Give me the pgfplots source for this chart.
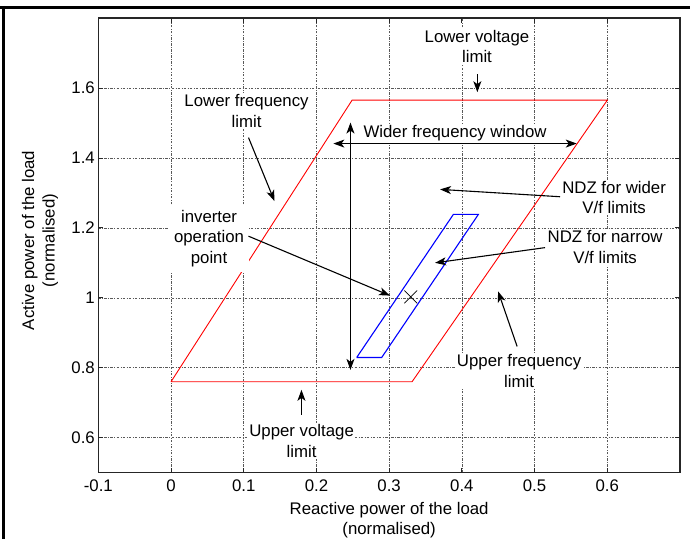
\documentclass[border=0pt]{standalone}
\usepackage{fontspec}
\setmainfont{Liberation Sans}
\usepackage{pgfplots}
\pgfplotsset{compat=1.18}
\usetikzlibrary{arrows.meta}

\tikzset{
  lbl/.style={fill=white, inner sep=1.5pt, align=center},
  arr/.style={line width=1.1pt, black, -{Stealth[length=11pt,width=8pt,inset=3pt]}},
  darr/.style={line width=1.1pt, black, {Stealth[length=11pt,width=8pt,inset=3pt]}-{Stealth[length=11pt,width=8pt,inset=3pt]}},
}

\begin{document}
\begin{tikzpicture}[font=\fontsize{16.8}{20.5}\selectfont]
\useasboundingbox (-98.3pt,-66.3pt) rectangle (599.7pt,472.7pt);
% frame of the original figure
\draw[line width=3pt, black] (-98.3pt,465.4pt) -- (591.7pt,465.4pt);
\draw[line width=3pt, black] (-94.5pt,466.9pt) -- (-94.5pt,-66.3pt);
\begin{axis}[
  at={(0pt,0pt)}, anchor=south west,
  scale only axis, width=581.7pt, height=454.7pt,
  xmin=-0.1, xmax=0.7, ymin=0.5, ymax=1.8,
  xtick={-0.1,0,0.1,0.2,0.3,0.4,0.5,0.6},
  xticklabels={-0.1,0,0.1,0.2,0.3,0.4,0.5,0.6},
  ytick={0.6,0.8,1,1.2,1.4,1.6},
  yticklabels={0.6,0.8,1,1.2,1.4,1.6},
  xticklabel style={yshift=-3.5pt},
  tick align=inside, major tick length=5pt,
  tick style={line width=0.8pt, black!85},
  grid=major,
  major grid style={black!65, line width=0.6pt, dash pattern=on 2.5pt off 1.5pt on 0.6pt off 1.5pt},
  axis line style={line width=1.2pt, black!85},
  clip=false,
]
% red NDZ (wider V/f limits)
\addplot[red, line width=0.9pt] coordinates {
  (0,0.76) (0.3315,0.76) (0.6,1.565) (0.249,1.565) (0,0.76)
};
% blue NDZ (narrow V/f limits)
\addplot[blue, line width=1.1pt] coordinates {
  (0.2554,0.8295) (0.2898,0.8295) (0.4227,1.2384) (0.3883,1.2384) (0.2554,0.8295)
};
% inverter operation point
\addplot[only marks, mark=x, mark size=9pt, black, line width=0.7pt] coordinates {(0.3297,1.0026)};

% double arrows
\draw[darr] (axis cs:0.2468,1.501) -- (axis cs:0.2468,0.794);
\draw[darr] (axis cs:0.2233,1.441) -- (axis cs:0.558,1.441);

% text labels
\node[lbl] at (axis cs:0.4208,1.719) {Lower voltage\\limit};
\node[lbl] at (axis cs:0.1039,1.5344) {Lower frequency\\limit};
\node[lbl] at (axis cs:0.3906,1.47) {Wider frequency window};
\node[lbl, inner sep=5pt] at (axis cs:0.0523,1.1705) {inverter\\operation\\point};
\node[lbl] at (axis cs:0.6094,1.287) {NDZ for wider\\V/f limits};
\node[lbl] at (axis cs:0.597,1.1453) {NDZ for narrow\\V/f limits};
\node[lbl] at (axis cs:0.4787,0.7914) {Upper frequency\\limit};
\node[lbl] at (axis cs:0.1796,0.5908) {Upper voltage\\limit};

% arrows
\draw[arr] (axis cs:0.4213,1.6395) -- (axis cs:0.4213,1.5879);
\draw[arr] (axis cs:0.1066,1.458) -- (axis cs:0.1423,1.2765);
\draw[arr] (axis cs:0.1066,1.1762) -- (axis cs:0.3012,1.0063);
\draw[arr] (axis cs:0.535,1.289) -- (axis cs:0.370,1.31);
\draw[arr] (axis cs:0.5144,1.1435) -- (axis cs:0.3631,1.1);
\draw[arr] (axis cs:0.476,0.861) -- (axis cs:0.4498,1.0186);
\draw[arr] (axis cs:0.1794,0.6653) -- (axis cs:0.1794,0.7369);

% axis labels
\node[align=center] at (axis cs:0.3,0.3645) {Reactive power of the load\\(normalised)};
\node[align=center, rotate=90] at (axis cs:-0.1802,1.1639) {Active power of the load\\(normalised)};
\end{axis}
\end{tikzpicture}
\end{document}
